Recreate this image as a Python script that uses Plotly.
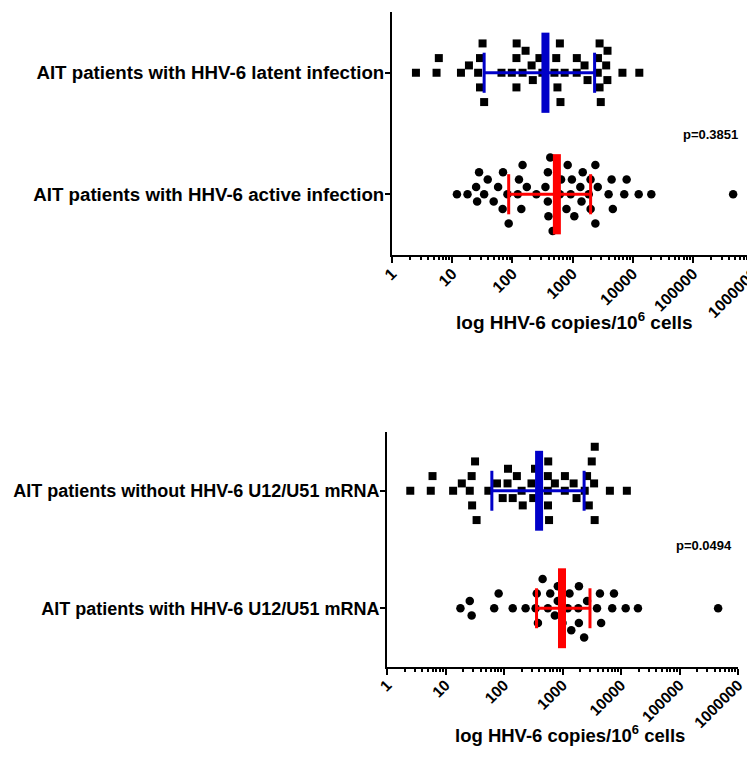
import numpy as np
import plotly.graph_objects as go

# ---------------- data (HHV-6 copies / 10^6 cells) ----------------
top_categories = ["AIT patients with HHV-6 active infection",
                  "AIT patients with HHV-6 latent infection"]
bottom_categories = ["AIT patients with HHV-6 U12/U51 mRNA",
                     "AIT patients without HHV-6 U12/U51 mRNA"]

latent = [2.5, 5.5, 6, 14, 19, 27, 29, 29, 34, 32, 66, 98, 117, 117, 118, 148,
          166, 209, 219, 282, 316, 501, 537, 562, 617, 631, 741, 1175, 1180,
          1585, 1778, 2630, 2818, 2650, 2820, 2950, 3630, 3800, 3820, 6760, 12900]
active = [12, 18, 25, 26, 28, 34, 39, 49, 58, 69, 70, 83, 87, 123, 129, 141,
          148, 174, 251, 355, 389, 390, 398, 427, 468, 617, 646, 794, 832, 933,
          977, 1072, 1349, 1413, 1479, 1862, 1995, 2000, 2399, 2400, 2630, 3981,
          4467, 4677, 7244, 7943, 12589, 20417, 467735]
without_mrna = [2.5, 5.6, 6, 13.5, 19, 26, 28, 28.5, 34, 32, 54, 76, 95, 115,
                117, 141, 166, 200, 209, 295, 316, 339, 562, 565, 560, 570, 589,
                741, 1096, 1100, 1549, 1738, 2399, 2630, 2818, 3162, 3467, 3548,
                3560, 6457, 12589]
with_mrna = [18, 26, 28, 68, 81, 141, 234, 347, 363, 380, 457, 562, 617, 741,
             832, 830, 1000, 1230, 1318, 1413, 1862, 1905, 1910, 2344, 2630,
             3890, 4365, 4571, 7079, 7586, 12023, 19498, 457088]

# median, lower and upper of the interval bars
medians = {"latent": 355, "active": 550, "without": 398, "with": 980}
lower = {"latent": 34, "active": 87, "without": 62, "with": 360}
upper = {"latent": 2330, "active": 2000, "without": 2340, "with": 2950}

p_values = ["p=0.3851", "p=0.0494"]
tick_vals = [1, 10, 100, 1000, 10000, 100000, 1000000]
tick_text = ["1", "10", "100", "1000", "10000", "100000", "1000000"]
x_title = "log HHV-6 copies/10<sup>6</sup> cells"

BLUE = "#0000c8"
RED = "#ff0000"
FONT = "Liberation Sans, Arial, sans-serif"

# page offset (browser body margin) and figure size
OFF = 8
W, H = 755 - OFF, 774 - OFF


def px(x):
    return (x - OFF) / W


def py(y):
    return 1 - (y - OFF) / H


def swarm(values, px_per_dec, px_per_unit, step_px=7.3, dist_px=10.0):
    """Beeswarm on discrete vertical levels with a minimum pixel distance."""
    logs = np.log10(values) * px_per_dec
    order = np.argsort(logs, kind="stable")
    seq = [0]
    for j in range(1, 40):
        seq += [j, -j]
    placed = []
    offs = np.zeros(len(values))
    for i in order:
        for lvl in seq:
            yy = lvl * step_px
            if all((logs[i] - xx) ** 2 + (yy - y2) ** 2 >= dist_px ** 2 for xx, y2 in placed):
                placed.append((logs[i], yy))
                offs[i] = yy / px_per_unit
                break
    return offs


fig = go.Figure()


def add_group(vals, row, symbol, color, key, xa, ya, half, ppd, ppu):
    offs = swarm(vals, ppd, ppu)
    fig.add_trace(go.Scatter(
        x=vals, y=row + offs, mode="markers", xaxis=xa, yaxis=ya,
        marker=dict(symbol=symbol, size=8 if symbol == "square" else 8.5,
                    color="black", line=dict(width=0)),
        showlegend=False, hoverinfo="x"))
    m, lo, hi = medians[key], lower[key], upper[key]
    ln = dict(color=color, width=3)
    fig.add_trace(go.Scatter(x=[lo, hi], y=[row, row], mode="lines", line=ln,
                             xaxis=xa, yaxis=ya, showlegend=False, hoverinfo="skip"))
    for v in (lo, hi):
        fig.add_trace(go.Scatter(x=[v, v], y=[row - half / 2, row + half / 2],
                                 mode="lines", line=ln, xaxis=xa, yaxis=ya,
                                 showlegend=False, hoverinfo="skip"))
    fig.add_trace(go.Scatter(x=[m, m], y=[row - half, row + half], mode="lines",
                             line=dict(color=color, width=8), xaxis=xa, yaxis=ya,
                             showlegend=False, hoverinfo="skip"))


add_group(latent, 1, "square", BLUE, "latent", "x", "y", 0.33, 60.2, 121)
add_group(active, 0, "circle", RED, "active", "x", "y", 0.33, 60.2, 121)
add_group(without_mrna, 1, "square", BLUE, "without", "x2", "y2", 0.34, 58.5, 117)
add_group(with_mrna, 0, "circle", RED, "with", "x2", "y2", 0.34, 58.5, 117)


def xaxis_style(fs):
    return dict(type="log", range=[0, 6], tickvals=tick_vals, ticktext=tick_text,
                tickangle=-45, ticks="outside", ticklen=6, tickwidth=2,
                tickcolor="black", showline=True, linewidth=2, linecolor="black",
                showgrid=False, zeroline=False, automargin=False,
                ticklabelstandoff=-5, ticklabeloverflow="allow",
                minor=dict(dtick="D1", ticks="outside", ticklen=3, tickwidth=1.5,
                           tickcolor="black", showgrid=False),
                tickfont=dict(family=FONT, size=fs, color="black", weight="bold"))


def yaxis_style(fs):
    return dict(range=[-0.5, 1.5], tickvals=[0, 1], ticks="outside", ticklen=5,
                tickwidth=2, tickcolor="black", showline=True, linewidth=2,
                linecolor="black", showgrid=False, zeroline=False, automargin=False,
                ticklabelstandoff=-3, ticklabeloverflow="allow",
                tickfont=dict(family=FONT, size=fs, color="black", weight="bold"))


fig.update_layout(
    width=W, height=H, margin=dict(l=0, r=0, t=0, b=0),
    plot_bgcolor="white", paper_bgcolor="white",
    xaxis=dict(domain=[px(392), px(753)], anchor="y", **xaxis_style(16)),
    yaxis=dict(domain=[py(255), py(12)], anchor="x", ticktext=top_categories,
               **yaxis_style(18.7)),
    xaxis2=dict(domain=[px(387), px(738)], anchor="y2", **xaxis_style(15.5)),
    yaxis2=dict(domain=[py(667), py(432)], anchor="x2", ticktext=bottom_categories,
                **yaxis_style(18.0)),
)

ann_font = dict(family=FONT, color="black", weight="bold")
for xx, yy, txt, sz in [(574, 321, x_title, 19), (570, 734, x_title, 18.5),
                        (710, 134, p_values[0], 13), (704, 545, p_values[1], 13)]:
    fig.add_annotation(x=px(xx), y=py(yy), xref="paper", yref="paper", text=txt,
                       xanchor="center", yanchor="middle", showarrow=False,
                       font=dict(size=sz, **ann_font))

fig.write_html("out.html")
